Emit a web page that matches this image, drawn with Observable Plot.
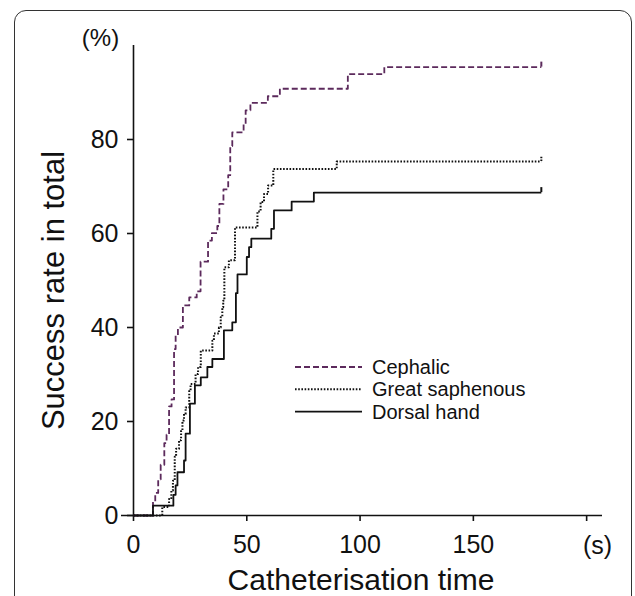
<!DOCTYPE html>
<html>
<head>
<meta charset="utf-8">
<script src="https://cdn.jsdelivr.net/npm/d3@7"></script>
<script src="https://cdn.jsdelivr.net/npm/@observablehq/plot@0.6"></script>
<style>
  html, body { margin: 0; padding: 0; background: #fff; overflow: hidden; }
  #wrap { position: relative; width: 635px; height: 596px; overflow: hidden; font-family: "Liberation Sans", Arial, sans-serif; }
  #border { position: absolute; left: 14px; top: 10px; width: 618px; height: 700px; box-sizing: border-box; border: 1.5px solid #333; border-radius: 12px; }
  #chart { position: absolute; left: 0; top: 0; }
  #legend { position: absolute; left: 0; top: 0; pointer-events: none; }
  #chart svg g[aria-label*="axis"] line, #chart svg g[aria-label*="axis"] path { stroke-width: 1.6px; }
</style>
</head>
<body>
<div id="wrap">
  <div id="border"></div>
  <div id="chart"></div>
  <svg id="legend" width="635" height="596"></svg>
</div>
<script>
// ---- Data ----
const seriesNames = ["Cephalic", "Great saphenous", "Dorsal hand"];
const seriesColors = ["#5c2a5c", "#111111", "#111111"];
const seriesDash = ["6,3", "1.6,1.6", null];

const cephalicTime = [0, 8.6, 9.6, 10.9, 12.0, 13.6, 14.6, 15.7, 16.8, 17.9, 18.6, 19.6, 21.8, 24.6, 27.9, 29.6, 32.9, 34.6, 37.0, 37.9, 39.7, 41.8, 42.7, 43.6, 48.6, 49.5, 51.6, 59.3, 64.6, 94.6, 110.7, 180];
const cephalicRate = [0, 3.0, 4.8, 7.7, 10.8, 15.4, 17.2, 23.2, 24.7, 35.4, 38.4, 40.0, 44.7, 46.4, 47.7, 54.0, 58.5, 60.1, 61.6, 66.3, 69.4, 72.4, 78.6, 81.5, 83.2, 86.2, 87.8, 89.2, 90.8, 93.9, 95.4, 95.4];

const saphenousTime = [0, 12.7, 15.7, 16.7, 17.4, 18.2, 18.8, 20.1, 21.0, 21.6, 22.3, 23.0, 24.6, 25.2, 27.4, 28.5, 29.7, 34.8, 35.5, 37.7, 38.5, 39.2, 39.6, 40.1, 42.1, 44.8, 54.7, 56.1, 57.6, 59.4, 61.7, 89.7, 180];
const saphenousRate = [0, 1.8, 3.5, 5.3, 7.4, 12.5, 14.2, 16.0, 18.0, 20.2, 21.6, 23.0, 26.5, 28.0, 30.1, 31.6, 35.1, 37.2, 38.7, 40.0, 42.2, 44.3, 45.7, 52.8, 54.3, 61.3, 64.7, 66.7, 68.4, 70.2, 73.7, 75.3, 75.3];

const dorsalTime = [0, 8.6, 17.6, 18.6, 19.4, 22.3, 23.0, 24.9, 27.1, 29.7, 32.6, 34.8, 39.9, 43.6, 45.2, 45.9, 50.0, 51.0, 52.0, 60.8, 62.0, 69.8, 79.6, 180];
const dorsalRate = [0, 2.1, 4.4, 6.4, 9.2, 11.7, 17.4, 23.8, 27.7, 29.4, 31.6, 33.3, 39.4, 41.1, 47.3, 51.3, 55.0, 57.1, 58.9, 61.0, 64.9, 66.8, 68.7, 68.7];

const xTicks = [0, 50, 100, 150, 200];
const xTickLabels = ["0", "50", "100", "150", ""];
const yTicks = [0, 20, 40, 60, 80];
const xTitle = "Catheterisation time";
const yTitle = "Success rate in total";
const yUnit = "(%)";
const xUnit = "(s)";

// ---- Build tables ----
const times = [cephalicTime, saphenousTime, dorsalTime];
const rates = [cephalicRate, saphenousRate, dorsalRate];
const rows = [];
const ends = [];
seriesNames.forEach((name, s) => {
  times[s].forEach((t, i) => rows.push({series: name, time: t, rate: rates[s][i]}));
  const last = times[s].length - 1;
  ends.push({series: name, time: times[s][last], rate: rates[s][last]});
});

const font = "'Liberation Sans', Arial, Helvetica, sans-serif";

const lineMarks = seriesNames.map((name, s) =>
  Plot.line(rows.filter(d => d.series === name), {
    x: "time", y: "rate", curve: "step-after",
    stroke: seriesColors[s], strokeWidth: s === 1 ? 2 : 1.8,
    strokeDasharray: seriesDash[s], strokeLinecap: "butt"
  })
);
const endMarks = seriesNames.map((name, s) =>
  Plot.ruleX(ends.filter(d => d.series === name), {
    x: "time", y1: "rate", y2: "rate", insetBottom: 5,
    stroke: seriesColors[s], strokeWidth: 2,
    strokeDasharray: s === 1 ? "1.6,1.2" : null
  })
);

const chart = Plot.plot({
  width: 635,
  height: 596,
  marginLeft: 133,
  marginRight: 33,
  marginTop: 45,
  marginBottom: 81,
  style: {fontFamily: font, fontSize: "25px", color: "#111", background: "transparent", overflow: "visible"},
  x: {domain: [0, 207], ticks: xTicks, tickSize: 6, tickPadding: 14, tickFormat: (d) => xTickLabels[xTicks.indexOf(d)], label: null},
  y: {domain: [0, 100], ticks: yTicks, tickSize: 6, tickPadding: 9, label: null},
  marks: [
    Plot.ruleX([0], {stroke: "#111", strokeWidth: 1.6}),
    Plot.ruleY([0], {stroke: "#111", strokeWidth: 1.6, insetLeft: -12}),
    ...lineMarks,
    ...endMarks,
    Plot.text([yTitle], {frameAnchor: "left", textAnchor: "middle", rotate: -90, dx: -70, dy: 10, fontSize: 31, lineAnchor: "bottom", fill: "#111"}),
    Plot.text([xTitle], {frameAnchor: "bottom", textAnchor: "middle", dx: -7, dy: 74, fontSize: 30, lineAnchor: "bottom", fill: "#111"}),
    Plot.text([yUnit], {frameAnchor: "top-left", textAnchor: "middle", dx: -33, dy: 0, fontSize: 24, lineAnchor: "bottom", fill: "#111"}),
    Plot.text([xUnit], {frameAnchor: "bottom-right", textAnchor: "middle", dx: -5, dy: 38, fontSize: 25, lineAnchor: "bottom", fill: "#111"})
  ]
});
document.getElementById("chart").appendChild(chart);

// ---- Legend ----
const legend = d3.select("#legend");
const lx0 = 295, lx1 = 362, ltx = 372, ly0 = 367, lstep = 22.3;
seriesNames.forEach((name, s) => {
  const y = ly0 + s * lstep;
  legend.append("line")
    .attr("x1", lx0).attr("x2", lx1).attr("y1", y).attr("y2", y)
    .attr("stroke", seriesColors[s]).attr("stroke-width", s === 1 ? 2 : 1.8)
    .attr("stroke-dasharray", seriesDash[s]);
  legend.append("text")
    .attr("x", ltx).attr("y", y + 7)
    .attr("font-family", font).attr("font-size", 20).attr("fill", "#111")
    .text(name);
});
</script>
</body>
</html>
